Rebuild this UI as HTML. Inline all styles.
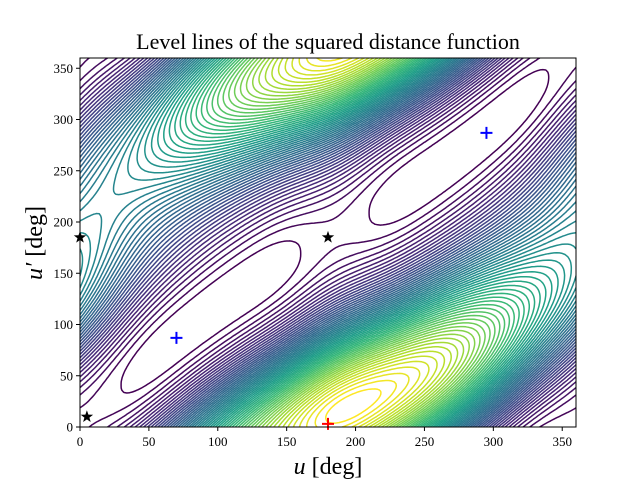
<!DOCTYPE html>
<html><head><meta charset="utf-8"><style>
body{margin:0;background:#fff;}
svg text{font-family:"Liberation Serif","DejaVu Serif",serif;}
</style></head><body>
<svg id="chart" width="640" height="480" viewBox="0 0 640 480" xmlns="http://www.w3.org/2000/svg">
<defs><clipPath id="clip"><rect x="80" y="58" width="496" height="369"/></clipPath></defs>
<rect width="640" height="480" fill="#fff"/>
<text x="328" y="49" font-size="22" text-anchor="middle">Level lines of the squared distance function</text>
<g id="contours" clip-path="url(#clip)"></g>
<g id="markers"></g>
<rect x="80" y="58" width="496" height="369" fill="none" stroke="#000" stroke-width="1"/>
<g id="xticks"></g>
<g id="yticks"></g>
<text x="328" y="474" font-size="24" text-anchor="middle"><tspan font-style="italic">u</tspan> [deg]</text>
<text transform="translate(42,243) rotate(-90)" font-size="24" text-anchor="middle"><tspan font-style="italic">u′</tspan> [deg]</text>
</svg>
<script>
// data
const xTicks=[0,50,100,150,200,250,300,350];
const yTicks=[0,50,100,150,200,250,300,350];
const hillCenter=[210,25];      // location of maximum (deg)
const valleyOffset=[-5,12];     // valley offset u-v at base, and its variation
const ampMix=[0.72,0.08,0.2];   // amplitude weights
const valleyFloor=[0.03,2,5,3]; // floor ripple height, frequency, phase (deg), sharpness
const shapePower=1.25;
const levelCount=60;
const starPts=[[0,185],[180,185],[5,10]];
const saddlePts=[[70,87],[295,287]];
const maxPts=[[180,3]];

const NS="http://www.w3.org/2000/svg";
const X0=80,X1=576,Y0=427,Y1=58;
const sx=u=>X0+(u/360)*(X1-X0);
const sy=v=>Y0-(v/360)*(Y0-Y1);
function el(t,a,p){const e=document.createElementNS(NS,t);for(const k in a)e.setAttribute(k,a[k]);p.appendChild(e);return e;}

const xg=document.getElementById('xticks');
xTicks.forEach(t=>{
  const l=el('line',{x1:sx(t),x2:sx(t),y1:427,y2:431,stroke:'#000'},xg);
  
  
  const tx=el('text',{x:sx(t),y:446,'font-size':13,'text-anchor':'middle'},xg);
  tx.textContent=t;
  
  
});
const yg=document.getElementById('yticks');
yTicks.forEach(t=>{
  const l=el('line',{x1:76,x2:80,y1:sy(t),y2:sy(t),stroke:'#000'},yg);
  
  
  const tx=el('text',{x:73,y:sy(t)+4.5,'font-size':13,'text-anchor':'end'},yg);
  tx.textContent=t;
  
  
});

const R=Math.PI/180, STEP=2, N=360/STEP+1;
function f(u,v){
  const d=(u-v)-(valleyOffset[0]+valleyOffset[1]*Math.sin((u-180)*R));
  const g=Math.pow((1-Math.cos(d*R))/2,shapePower);
  const w=ampMix[0]+ampMix[1]*Math.cos((u-hillCenter[0])*R)+ampMix[2]*Math.cos((v-hillCenter[1])*R);
  const h=valleyFloor[0]*Math.pow((1+Math.cos(valleyFloor[1]*(u-valleyFloor[2])*R))/2,valleyFloor[3]);
  return g*w+h;
}
const G=[];let fmin=1e9,fmax=-1e9;
for(let i=0;i<N;i++){G.push([]);for(let j=0;j<N;j++){const val=f(j*STEP,i*STEP);G[i].push(val);if(val<fmin)fmin=val;if(val>fmax)fmax=val;}}

const vir=[[68,1,84],[72,40,120],[62,74,137],[49,104,142],[38,130,142],[31,158,137],[53,183,121],[109,205,89],[180,222,44],[253,231,37]];
function vcol(t){t=Math.max(0,Math.min(1,t))*(vir.length-1);const i=Math.min(vir.length-2,Math.floor(t)),f=t-i;
  const c=vir[i].map((x,k)=>Math.round(x+(vir[i+1][k]-x)*f));return `rgb(${c[0]},${c[1]},${c[2]})`;}

const cg=document.getElementById('contours');
for(let k=1;k<=levelCount;k++){
  const L=fmin+(fmax-fmin)*k/(levelCount+1);
  let d='';
  for(let i=0;i<N-1;i++)for(let j=0;j<N-1;j++){
    const a=G[i][j],b=G[i][j+1],c=G[i+1][j+1],e=G[i+1][j];
    const pts=[];
    const edge=(v1,v2,u1,w1,u2,w2)=>{if((v1<L)!==(v2<L)){const t=(L-v1)/(v2-v1);pts.push([u1+(u2-u1)*t,w1+(w2-w1)*t]);}};
    const u=j*STEP,w=i*STEP;
    edge(a,b,u,w,u+STEP,w);edge(b,c,u+STEP,w,u+STEP,w+STEP);
    edge(c,e,u+STEP,w+STEP,u,w+STEP);edge(e,a,u,w+STEP,u,w);
    for(let p=0;p+1<pts.length;p+=2)
      d+=`M${sx(pts[p][0]).toFixed(1)} ${sy(pts[p][1]).toFixed(1)}L${sx(pts[p+1][0]).toFixed(1)} ${sy(pts[p+1][1]).toFixed(1)}`;
  }
  if(d){const p=el('path',{d:d,fill:'none',stroke:vcol((k-1)/(levelCount-1)),'stroke-width':1.5,'stroke-linecap':'round'},cg);
    
    }
}

const mg=document.getElementById('markers');
function star(x,y,r){let s='';for(let i=0;i<10;i++){const rr=i%2?r*0.4:r;const a=-Math.PI/2+i*Math.PI/5;s+=(i?'L':'M')+(x+rr*Math.cos(a)).toFixed(1)+' '+(y+rr*Math.sin(a)).toFixed(1);}return s+'Z';}
starPts.forEach(p=>{const s=el('path',{d:star(sx(p[0]),sy(p[1]),6.5),fill:'#000'},mg);
  
  });
function plus(p,col){const x=sx(p[0]),y=sy(p[1]);
  return el('path',{d:`M${x-6} ${y}H${x+6}M${x} ${y-6}V${y+6}`,stroke:col,'stroke-width':2,fill:'none'},mg);}
saddlePts.forEach(p=>{const g=plus(p,'#0000ff');
  
  });
maxPts.forEach(p=>{const g=plus(p,'#ff0000');
  
  });
</script>
</body></html>
